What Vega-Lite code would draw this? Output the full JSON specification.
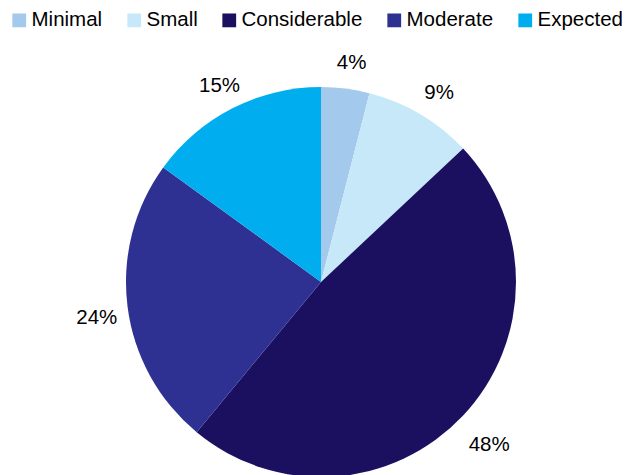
{
  "$schema": "https://vega.github.io/schema/vega-lite/v6.json",
  "width": 642,
  "height": 564,
  "padding": 0,
  "autosize": {"type": "none"},
  "background": "white",
  "config": {"view": {"stroke": null}, "font": "Liberation Sans"},
  "data": {
    "values": [
      {"category": "Minimal", "value": 0.04, "seq": 1},
      {"category": "Small", "value": 0.09, "seq": 2},
      {"category": "Considerable", "value": 0.48, "seq": 3},
      {"category": "Moderate", "value": 0.24, "seq": 4},
      {"category": "Expected", "value": 0.15, "seq": 5}
    ]
  },
  "encoding": {
    "theta": {"field": "value", "type": "quantitative", "stack": true},
    "order": {"field": "seq", "type": "quantitative"}
  },
  "layer": [
    {
      "mark": {"type": "arc", "outerRadius": 195},
      "encoding": {
        "color": {
          "field": "category",
          "type": "nominal",
          "scale": {
            "domain": ["Minimal", "Small", "Considerable", "Moderate", "Expected"],
            "range": ["#a3c9ec", "#c6e8f9", "#1b1060", "#2e3192", "#00aeef"]
          },
          "legend": {
            "title": null,
            "orient": "none",
            "legendX": 9,
            "legendY": 10,
            "direction": "horizontal",
            "symbolType": "square",
            "symbolSize": 190,
            "symbolStrokeWidth": 0,
            "labelFontSize": 20.5,
            "labelColor": "black",
            "labelFont": "Liberation Sans",
            "labelOffset": 2,
            "columnPadding": 21,
            "labelLimit": 300
          }
        }
      }
    },
    {
      "mark": {"type": "text", "radius": 228, "dy": 7, "dx": 2, "fontSize": 20.5, "color": "black", "font": "Liberation Sans"},
      "encoding": {
        "text": {"field": "value", "type": "quantitative", "format": ".0%"}
      }
    }
  ]
}
